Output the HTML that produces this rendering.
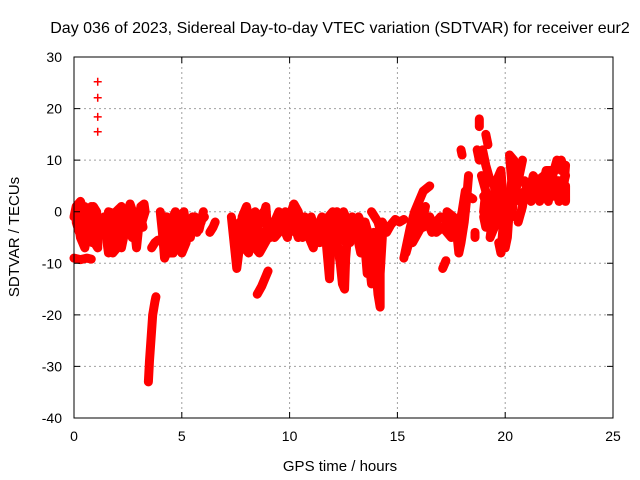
<!DOCTYPE html>
<html><head><meta charset="utf-8"><style>
body{margin:0;background:#fff;}
svg{display:block;font-family:"Liberation Sans",sans-serif;}
</style></head><body>
<svg id="chart" width="640" height="480" viewBox="0 0 640 480">
<rect width="640" height="480" fill="#fff"/>
<text x="340" y="33" font-size="16" text-anchor="middle">Day 036 of 2023, Sidereal Day-to-day VTEC variation (SDTVAR) for receiver eur2</text>
<text x="340" y="471" font-size="15" text-anchor="middle">GPS time / hours</text>
<text transform="translate(19,237) rotate(-90)" font-size="15" text-anchor="middle">SDTVAR / TECUs</text>
<g id="grid"></g>
<g id="marks"></g>
<rect x="74" y="57" width="539" height="361" fill="none" stroke="#000" stroke-width="1"/>
<g id="ticks"></g>
</svg>
<script>
const xTicks=[0,5,10,15,20,25];
const yTicks=[30,20,10,0,-10,-20,-30,-40];
const tracks=[
[[0,-1],[0.1,1],[0.3,2],[0.45,0],[0.4,-3],[0.55,-5],[0.7,-2],[0.8,1],[0.95,0],[1.05,-3],[0.95,-6],[1.1,-7],[1.1,-4],[1.05,0],[0.9,1]],
[[0.1,-2],[0.25,-4],[0.2,0],[0.5,1],[0.6,-1],[0.75,-4],[0.85,-6],[0.9,-3],[0.7,0],[0.3,-1]],
[[0,-9],[0.3,-9.3],[0.6,-9],[0.8,-9.2]],
[[0.2,-2],[0.3,-5],[0.5,-7],[0.65,-4],[0.6,-1]],
[[1.4,-1],[1.5,-5],[1.6,-8],[1.8,-6],[1.9,-2],[2.0,0],[2.1,-4],[2.2,-7],[2.3,-5],[2.35,-2],[2.2,1],[1.7,-1]],
[[1.5,-2],[1.7,-4],[1.6,-6],[1.8,-8],[2.0,-7],[2.0,-4],[1.85,-3],[2.2,-3],[2.3,-1],[1.6,0]],
[[2.5,0],[2.6,1.5],[2.8,-1],[2.85,-5],[2.9,-7],[3.0,-3],[3.1,1],[3.25,1.5],[3.3,0],[3.15,-2],[3.2,-3]],
[[2.55,-3],[2.7,-5],[2.6,-1],[2.95,0],[3.05,-1.5],[3.2,0.5]],
[[3.45,-33],[3.5,-29],[3.55,-26],[3.6,-23],[3.65,-20],[3.75,-17.5],[3.8,-16.5]],
[[3.6,-7],[3.75,-6],[3.9,-5.5]],
[[4.0,0],[4.1,-4],[4.2,-9],[4.4,-7],[4.5,-2],[4.7,0],[4.8,-4],[5.0,-8],[5.2,-6],[5.3,-2],[5.5,-1],[5.4,-5],[5.0,-3],[4.6,-5],[4.3,-3]],
[[4.1,-1],[4.3,-1],[4.5,-4],[4.4,-8],[4.6,-8],[4.8,-6],[4.9,-1],[5.1,0],[5.2,-3],[5.4,-3],[5.6,-1],[5.5,-4],[5.1,-6],[4.6,-2]],
[[5.6,-1],[5.7,-4],[5.9,-2],[6.0,0],[5.8,-3.5],[5.6,-3],[6.05,-1]],
[[6.3,-4],[6.45,-3],[6.55,-2]],
[[7.3,-1],[7.4,-5],[7.5,-9],[7.55,-11],[7.7,-6],[7.8,-1],[8.0,1],[8.2,-3],[8.3,-7],[8.5,-5],[8.6,-1],[8.8,0],[9.0,-3],[8.7,-6],[8.2,-5],[7.9,-3]],
[[7.5,-3],[7.7,-2],[7.9,-7],[8.1,-8],[8.1,-2],[8.4,0],[8.4,-3],[8.7,-2],[8.9,1],[9.0,-5],[8.6,-8],[8.0,-5],[7.6,-7]],
[[8.5,-16],[8.7,-14.5],[8.9,-12.5],[9.0,-11.5]],
[[9.1,-5],[9.3,-2],[9.5,0],[9.7,-3],[9.9,-5],[10.0,-1],[10.2,1.5],[10.4,0],[10.5,-2],[10.3,-4]],
[[9.1,-2],[9.4,-4],[9.6,-1],[9.8,0],[10.0,-4],[10.2,-2],[10.4,-5],[10.1,-1],[9.3,-5]],
[[10.5,-3],[10.7,-1],[10.9,-5],[11.1,-7],[11.3,-3],[11.5,-1],[11.7,-6],[11.85,-13],[11.9,-8],[12.0,-3]],
[[10.6,-5],[10.8,-3],[11.0,-1],[11.2,-4],[11.4,-6],[11.6,-3],[11.8,-1],[12.0,0],[11.7,-4],[11.1,-3]],
[[12.1,-2],[12.2,-6],[12.35,-10],[12.45,-14],[12.55,-15],[12.6,-9],[12.7,-4],[12.9,-1],[12.95,-5]],
[[12.1,-4],[12.3,-1],[12.5,0],[12.7,-2],[12.8,-6],[12.6,-6],[12.4,-4],[12.2,0]],
[[13.0,-5],[13.2,-1],[13.4,-3],[13.5,-7],[13.6,-12],[13.7,-10],[13.8,-14],[13.9,-9],[14.0,-11],[14.1,-16],[14.2,-18.5],[14.2,-12],[14.3,-5],[14.1,-2],[13.8,0]],
[[13.1,-3],[13.3,-5],[13.5,-2],[13.7,-5],[13.9,-4],[14.0,-7],[13.8,-9],[13.6,-6],[13.3,-8],[13.2,-6]],
[[14.3,-2],[14.5,-4],[14.7,-2.5],[14.9,-1.5],[15.1,-2],[15.3,-1.5]],
[[15.3,-9],[15.45,-6],[15.6,-3],[15.8,0],[16.0,2],[16.2,4],[16.5,5]],
[[15.4,-8],[15.6,-5],[15.8,-3],[16.0,-1],[16.3,1],[16.1,-3],[15.7,-6]],
[[15.6,-4.5],[15.9,-2],[16.2,-1],[16.4,-2],[16.6,-4],[16.8,-2],[17.0,-1],[17.2,-1.5],[17.4,-3],[17.3,0],[17.6,-1],[17.7,-4]],
[[16.2,-3],[16.5,-1],[16.8,-4],[17.1,-3],[17.5,-5],[17.4,-1]],
[[17.1,-11],[17.25,-9.5]],
[[17.7,-2],[17.85,-8],[17.95,-6],[18.1,-2],[18.2,2],[18.3,7]],
[[17.8,-4],[18.0,0],[18.15,4],[18.05,-3]],
[[17.95,12],[18.0,11]],
[[18.3,3],[18.5,2.5]],
[[18.6,-4],[18.6,-5]],
[[18.8,18],[18.8,16.5]],
[[18.7,12],[18.8,10],[18.95,12],[19.1,9],[19.3,6],[19.5,5],[19.55,2],[19.4,-2],[19.3,-5],[19.5,-3],[19.6,1],[19.8,4],[19.9,-2],[20.0,-7],[20.1,-5],[20.2,1],[20.3,6],[20.2,11],[20.4,10],[20.6,8],[20.5,4],[20.7,2]],
[[18.9,7],[19.1,4],[19.0,0],[19.2,-3],[19.4,1],[19.6,6],[19.8,8],[19.9,3],[20.1,2],[20.3,-1],[20.4,3],[20.6,6],[20.8,10]],
[[19.1,15],[19.2,13]],
[[19.0,-1],[19.1,-3],[19.2,1],[19.0,3]],
[[19.7,-6],[19.8,-8],[19.9,-3]],
[[20.6,-2],[20.8,1],[20.9,4],[21.0,3]],
[[21.0,4],[21.2,2],[21.4,6],[21.6,3],[21.8,5],[22.0,2],[22.2,7],[22.4,10],[22.6,8],[22.8,9],[22.7,4],[22.5,2],[22.3,5],[22.0,4],[21.8,7],[21.5,6],[21.3,4],[21.7,4],[22.1,6],[22.5,6],[22.8,5],[22.8,2]],
[[20.9,6],[21.1,3],[21.3,7],[21.6,5],[21.9,3],[22.2,3],[22.4,6],[22.6,4],[22.8,7],[22.6,10],[22.3,8],[21.9,8],[21.6,2],[21.2,5]],
[[1.1,25.2]],[[1.1,22.1]],[[1.1,18.4]],[[1.1,15.5]]
];
const X0=74,X1=613,Y0=418,Y1=57;
const sx=v=>X0+(v-0)/(25-0)*(X1-X0);
const sy=v=>Y0-(v-(-40))/(30-(-40))*(Y0-Y1);
const NS="http://www.w3.org/2000/svg";
const grid=document.getElementById('grid'),ticks=document.getElementById('ticks'),marks=document.getElementById('marks');
xTicks.forEach(t=>{
 const x=sx(t);
 if(t>0&&t<25){const l=document.createElementNS(NS,'line');
 
 
 l.setAttribute('x1',x);l.setAttribute('x2',x);l.setAttribute('y1',Y1);l.setAttribute('y2',Y0);l.setAttribute('stroke','#a0a0a0');l.setAttribute('stroke-dasharray','2,3');grid.appendChild(l);}
 const k=document.createElementNS(NS,'path');
 
 
 k.setAttribute('d',`M${x},${Y0}v-6M${x},${Y1}v6`);k.setAttribute('stroke','#000');ticks.appendChild(k);
 const tx=document.createElementNS(NS,'text');
 
 
 tx.setAttribute('x',x);tx.setAttribute('y',Y0+23);tx.setAttribute('font-size','14');tx.setAttribute('text-anchor','middle');tx.textContent=t;ticks.appendChild(tx);
});
yTicks.forEach(t=>{
 const y=sy(t);
 if(t<30&&t>-40){const l=document.createElementNS(NS,'line');
 
 
 l.setAttribute('x1',X0);l.setAttribute('x2',X1);l.setAttribute('y1',y);l.setAttribute('y2',y);l.setAttribute('stroke','#a0a0a0');l.setAttribute('stroke-dasharray','2,3');grid.appendChild(l);}
 const k=document.createElementNS(NS,'path');
 
 
 k.setAttribute('d',`M${X0},${y}h6M${X1},${y}h-6`);k.setAttribute('stroke','#000');ticks.appendChild(k);
 const tx=document.createElementNS(NS,'text');
 
 
 tx.setAttribute('x',X0-12);tx.setAttribute('y',y+5);tx.setAttribute('font-size','14');tx.setAttribute('text-anchor','end');tx.textContent=t;ticks.appendChild(tx);
});
tracks.forEach(tr=>{
 if(tr.length>1){
 const p=document.createElementNS(NS,'polyline');
 
 
 p.setAttribute('points',tr.map(d=>sx(d[0])+','+sy(d[1])).join(' '));
 p.setAttribute('fill','none');p.setAttribute('stroke','#f00');p.setAttribute('stroke-width','9');p.setAttribute('stroke-linejoin','round');p.setAttribute('stroke-linecap','round');
 marks.appendChild(p);}
 tr.forEach(d=>{
 const m=document.createElementNS(NS,'path');
 
 
 const x=sx(d[0]),y=sy(d[1]);
 m.setAttribute('d',`M${x-4},${y}h8M${x},${y-4}v8`);m.setAttribute('stroke','#f00');m.setAttribute('stroke-width','1.5');
 marks.appendChild(m);});
});
</script>
</body></html>
